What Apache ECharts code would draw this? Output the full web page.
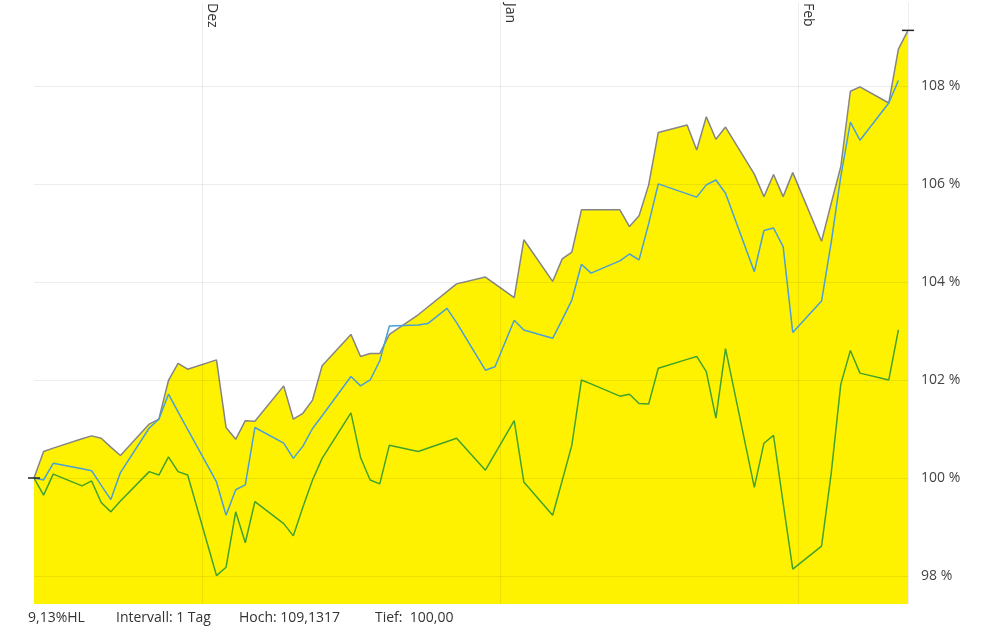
<!DOCTYPE html>
<html>
<head>
<meta charset="utf-8">
<script src="https://cdn.jsdelivr.net/npm/echarts@6/dist/echarts.min.js"></script>
<style>
  html, body { margin: 0; padding: 0; background: #fff; }
  #chart { width: 998px; height: 635px; }
</style>
</head>
<body>
<div id="chart"></div>
<script>
// Handelstage (Nov 2024 - Feb 2025)
const dates = [
  '2024-11-13', '2024-11-14', '2024-11-15', '2024-11-18', '2024-11-19', '2024-11-20', '2024-11-21', '2024-11-22',
  '2024-11-25', '2024-11-26', '2024-11-27', '2024-11-28', '2024-11-29',
  '2024-12-02', '2024-12-03', '2024-12-04', '2024-12-05', '2024-12-06',
  '2024-12-09', '2024-12-10', '2024-12-11', '2024-12-12', '2024-12-13',
  '2024-12-16', '2024-12-17', '2024-12-18', '2024-12-19', '2024-12-20',
  '2024-12-23', '2024-12-24', '2024-12-26', '2024-12-27', '2024-12-30', '2024-12-31',
  '2025-01-02', '2025-01-03', '2025-01-06', '2025-01-07', '2025-01-08', '2025-01-09', '2025-01-10',
  '2025-01-13', '2025-01-14', '2025-01-15', '2025-01-16', '2025-01-17',
  '2025-01-20', '2025-01-21', '2025-01-22', '2025-01-23', '2025-01-24',
  '2025-01-27', '2025-01-28', '2025-01-29', '2025-01-30', '2025-01-31',
  '2025-02-03', '2025-02-04', '2025-02-05', '2025-02-06', '2025-02-07',
  '2025-02-10', '2025-02-11', '2025-02-12'
];

// Hauptwert (gelbe Flaeche, graue Linie) in %
const kurs = [
  100.00, 100.54, 100.61, 100.80, 100.86, 100.81, 100.63, 100.46,
  101.10, 101.20, 101.99, 102.34, 102.22,
  102.41, 101.03, 100.79, 101.17, 101.16,
  101.88, 101.20, 101.32, 101.59, 102.29,
  102.93, 102.48, 102.54, 102.54, 102.93,
  103.33, null, null, 103.96, 104.10, null,
  103.68, 104.86, 104.01, 104.47, 104.61, 105.47, 105.47,
  105.47, 105.13, 105.35, 105.98, 107.05,
  107.20, 106.69, 107.37, 106.91, 107.16,
  106.20, 105.74, 106.19, 105.74, 106.23,
  104.83, 105.60, 106.35, 107.89, 107.98,
  107.65, 108.75, 109.1317
];

// Vergleich 1 (blau)
const vergleichBlau = [
  100.00, 99.96, 100.30, 100.19, 100.15, 99.85, 99.56, 100.11,
  101.02, 101.20, 101.71, 101.35, 100.99,
  99.92, 99.24, 99.76, 99.86, 101.03,
  100.71, 100.40, 100.65, 101.01, 101.27,
  102.07, 101.88, 102.00, 102.39, 103.10,
  103.12, 103.15, 103.46, 103.17, 102.20, 102.27,
  103.22, 103.02, 102.85, 103.23, 103.63, 104.36, 104.18,
  104.43, 104.57, 104.45, 105.19, 106.00,
  null, 105.73, 105.98, 106.08, 105.81,
  104.21, 105.05, 105.10, 104.72, 102.97,
  103.61, 104.80, 106.15, 107.26, 106.89,
  107.65, 108.11, null
];

// Vergleich 2 (gruen)
const vergleichGruen = [
  100.00, 99.65, 100.08, 99.84, 99.94, 99.50, 99.31, 99.53,
  100.13, 100.06, 100.43, 100.13, 100.06,
  98.01, 98.18, 99.31, 98.68, 99.52,
  99.07, 98.82, 99.41, 99.96, 100.40,
  101.33, 100.42, 99.96, 99.88, 100.67,
  100.54, null, null, 100.81, 100.16, null,
  101.17, 99.92, 99.24, 99.95, 100.67, 102.00, 101.92,
  101.67, 101.71, 101.52, 101.51, 102.24,
  102.42, 102.48, 102.17, 101.22, 102.64,
  99.81, 100.71, 100.87, 99.49, 98.14,
  98.61, 100.09, 101.91, 102.60, 102.14,
  102.00, 103.02, null
];

const monate = ['Jan', 'Feb', 'Mär', 'Apr', 'Mai', 'Jun', 'Jul', 'Aug', 'Sep', 'Okt', 'Nov', 'Dez'];
const hoch = 109.1317;
const tief = 100.00;

function fmt(v, n) {
  return v.toFixed(n).replace('.', ',');
}

// Kurse werden zum Tagesschluss gezeichnet
const zeit = dates.map(d => d + ' 11:00');
const pts = arr => zeit.map((t, i) => [t, arr[i]]);

const chart = echarts.init(document.getElementById('chart'));

const option = {
  animation: false,
  backgroundColor: '#fff',
  textStyle: { fontFamily: 'Open Sans' },
  grid: { left: 34, right: 90, top: 3, bottom: 31 },
  xAxis: {
    type: 'time',
    position: 'top',
    min: zeit[0],
    max: zeit[zeit.length - 1],
    splitNumber: 3,
    z: 3,
    axisLine: { show: false },
    axisTick: { show: false },
    axisLabel: {
      inside: true,
      rotate: 90,
      verticalAlign: 'bottom',
      padding: [0, 0, 3, 0],
      margin: 0,
      color: '#333',
      fontSize: 14,
      fontFamily: 'Open Sans',
      showMinLabel: false,
      showMaxLabel: false,
      formatter: function (value) {
        return monate[new Date(value).getMonth()];
      }
    },
    splitLine: {
      show: true,
      showMinLine: false,
      showMaxLine: false,
      lineStyle: { color: 'rgba(0,0,0,0.07)', width: 1 }
    }
  },
  yAxis: {
    type: 'value',
    position: 'right',
    min: 97.43,
    max: 109.69,
    splitNumber: 6,
    z: 3,
    axisLine: { show: true, lineStyle: { color: '#eeeeee' } },
    axisTick: { show: false },
    axisLabel: {
      margin: 13,
      color: '#444',
      fontSize: 14,
      fontFamily: 'Open Sans',
      showMinLabel: false,
      showMaxLabel: false,
      formatter: '{value} %'
    },
    splitLine: {
      show: true,
      showMinLine: false,
      showMaxLine: false,
      lineStyle: { color: 'rgba(0,0,0,0.07)', width: 1 }
    }
  },
  series: [
    {
      name: 'HL',
      type: 'line',
      data: pts(kurs),
      connectNulls: true,
      showSymbol: false,
      symbol: 'none',
      lineStyle: { color: '#858585', width: 1.5 },
      areaStyle: { color: '#fff200', opacity: 1, origin: 'start' },
      markPoint: {
        symbol: 'rect',
        symbolSize: [12, 1.5],
        itemStyle: { color: '#222' },
        label: { show: false },
        data: [{ type: 'min' }, { type: 'max' }]
      },
      z: 2
    },
    {
      name: 'Vergleich 2',
      type: 'line',
      data: pts(vergleichGruen),
      connectNulls: true,
      showSymbol: false,
      symbol: 'none',
      lineStyle: { color: '#42a22c', width: 1.5 },
      z: 3
    },
    {
      name: 'Vergleich 1',
      type: 'line',
      data: pts(vergleichBlau),
      connectNulls: true,
      showSymbol: false,
      symbol: 'none',
      lineStyle: { color: '#4a9fd6', width: 1.5 },
      z: 4
    }
  ],
  graphic: [
    { type: 'text', left: 28, top: 611, style: { text: fmt((hoch - tief) / tief * 100, 2) + '%HL', font: '14px "Open Sans"', fill: '#333' } },
    { type: 'text', left: 116, top: 611, style: { text: 'Intervall: 1 Tag', font: '14px "Open Sans"', fill: '#333' } },
    { type: 'text', left: 239, top: 611, style: { text: 'Hoch: ' + fmt(hoch, 4), font: '14px "Open Sans"', fill: '#333' } },
    { type: 'text', left: 375, top: 611, style: { text: 'Tief:  ' + fmt(tief, 2), font: '14px "Open Sans"', fill: '#333' } }
  ]
};

chart.setOption(option);
</script>
</body>
</html>
